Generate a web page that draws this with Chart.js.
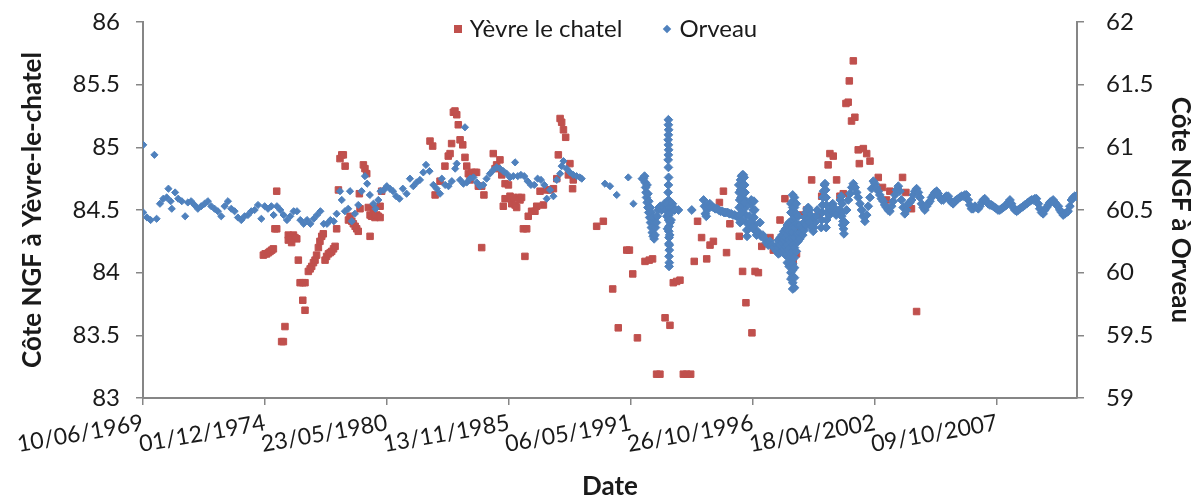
<!DOCTYPE html>
<html>
<head>
<meta charset="utf-8">
<script src="https://cdn.jsdelivr.net/npm/chart.js@4.4.1/dist/chart.umd.min.js"></script>
<style>
  body { margin: 0; background: #fff; }
  #wrap { position: relative; width: 1199px; height: 499px; }
  #legend { position: absolute; top: 13px; left: 6px; width: 1199px; text-align: center; font-family: Lato, sans-serif; font-size: 24px; color: #1a1a1a; }
  #legend span.item { display: inline-block; margin: 0 21px; }
  .sq { display: inline-block; width: 8px; height: 8px; background: #C0504D; margin-right: 8px; vertical-align: middle; position: relative; top: -2px; }
  .dm { display: inline-block; width: 6px; height: 6px; background: #4F81BD; transform: rotate(45deg); margin-right: 9px; vertical-align: middle; position: relative; top: -2px; }
</style>
</head>
<body>
<div id="wrap">
  <canvas id="chart" width="1199" height="499"></canvas>
  <div id="legend"><span class="item"><span class="sq"></span>Yèvre le chatel</span><span class="item"><span class="dm"></span>Orveau</span></div>
</div>
<script>
// dates are decimal years, levels in m NGF
const xTickLabels = ['10/06/1969', '01/12/1974', '23/05/1980', '13/11/1985', '06/05/1991', '26/10/1996', '18/04/2002', '09/10/2007'];
const xMax = 2011.36;
const yLeftTicks = [83, 83.5, 84, 84.5, 85, 85.5, 86];
const yRightTicks = [59, 59.5, 60, 60.5, 61, 61.5, 62];

const yevre = [
  [1974.84,84.14],[1974.92,84.15],[1974.99,84.15],[1975.07,84.16],[1975.14,84.17],[1975.22,84.18],[1975.29,84.19],
  [1975.36,84.35],[1975.44,84.35],[1975.44,84.65],[1975.66,83.45],[1975.74,83.45],[1975.81,83.57],
  [1975.96,84.30],[1976.04,84.29],[1976.11,84.29],[1976.19,84.30],[1976.26,84.28],[1976.34,84.27],[1975.96,84.26],[1976.11,84.24],
  [1976.41,84.10],[1976.49,83.92],[1976.61,83.92],[1976.71,83.92],[1976.61,83.78],[1976.71,83.70],
  [1976.86,84.01],[1976.94,84.03],[1977.01,84.05],[1977.09,84.08],[1977.16,84.10],[1977.23,84.14],
  [1977.31,84.20],[1977.38,84.25],[1977.46,84.29],[1977.53,84.31],
  [1977.61,84.10],[1977.68,84.13],[1977.76,84.15],[1977.84,84.16],[1977.91,84.17],[1977.99,84.19],[1978.06,84.21],
  [1978.13,84.35],[1978.21,84.66],[1978.28,84.91],[1978.36,84.94],[1978.43,84.94],[1978.51,84.85],
  [1978.66,84.42],[1978.73,84.45],[1978.81,84.41],[1978.88,84.39],[1978.96,84.37],[1979.03,84.35],[1979.10,84.33],
  [1979.18,84.51],[1979.15,84.63],[1979.33,84.86],[1979.40,84.83],[1979.48,84.79],
  [1979.55,84.52],[1979.63,84.46],[1979.70,84.45],[1979.78,84.51],[1979.85,84.44],[1979.93,84.46],[1980.00,84.45],[1980.08,84.53],[1980.08,84.44],
  [1979.63,84.29],[1980.15,84.65],
  [1982.32,85.05],[1982.44,85.01],[1982.55,84.62],[1982.77,84.73],[1982.99,84.85],[1983.14,84.93],[1983.22,84.95],[1983.29,85.03],
  [1983.37,85.28],[1983.44,85.29],[1983.52,85.26],[1983.59,85.18],[1983.67,85.06],[1983.79,85.02],[1983.89,84.92],[1983.97,84.85],
  [1984.04,84.79],[1984.12,84.74],[1984.19,84.80],[1984.34,84.80],[1984.41,84.80],[1984.49,84.69],[1984.64,84.69],[1984.74,84.62],
  [1984.64,84.20],[1985.16,84.95],[1985.24,84.83],[1985.31,84.86],[1985.46,84.90],[1985.54,84.78],[1985.69,84.71],[1985.84,84.70],
  [1985.69,84.59],[1985.61,84.53],[1985.91,84.61],[1985.99,84.55],[1986.06,84.60],[1986.14,84.54],[1986.21,84.52],[1986.29,84.60],
  [1986.36,84.58],[1986.43,84.60],[1986.51,84.35],[1986.66,84.35],[1986.58,84.13],[1986.73,84.45],[1986.88,84.49],[1987.03,84.49],
  [1987.11,84.53],[1987.26,84.65],[1987.41,84.54],[1987.56,84.66],[1987.71,84.66],[1987.86,84.67],[1988.01,84.75],[1988.08,84.94],
  [1988.16,85.23],[1988.23,85.20],[1988.31,85.14],[1988.41,85.08],[1988.53,84.78],[1988.60,84.87],[1988.72,84.67],[1988.75,84.74],
  [1989.80,84.37],[1990.10,84.41],[1990.52,83.87],[1990.77,83.56],[1991.15,84.18],[1991.27,84.18],[1991.42,83.99],[1991.63,83.48],
  [1991.97,84.09],[1992.16,84.10],[1992.31,84.11],[1992.49,83.19],[1992.64,83.19],[1992.87,83.64],[1993.09,83.58],
  [1993.24,83.92],[1993.39,83.93],[1993.54,83.94],[1993.69,83.19],[1993.84,83.19],[1994.02,83.19],
  [1994.18,84.09],[1994.33,84.41],[1994.51,84.28],[1994.74,84.11],[1994.89,84.22],[1995.04,84.25],[1995.31,84.56],[1995.49,84.65],
  [1995.63,84.16],[1995.78,84.39],[1996.20,84.29],[1996.35,84.01],[1996.50,83.76],[1996.77,83.52],[1996.91,84.01],[1997.06,84.00],
  [1997.21,84.21],[1997.43,84.23],[1997.58,84.28],[1997.73,84.18],[1998.03,84.42],[1998.25,84.59],
  [1998.62,84.10],[1998.77,84.15],[1998.92,84.35],[1999.00,84.46],[1999.22,84.50],[1999.45,84.74],[1999.75,84.46],[1999.90,84.61],
  [2000.19,84.86],[2000.27,84.95],[2000.42,84.93],[2000.57,84.74],[2000.72,84.61],[2000.87,84.63],
  [2000.99,85.35],[2001.09,85.36],[2001.14,85.53],[2001.32,85.69],[2001.24,85.21],[2001.39,85.24],
  [2001.54,84.98],[2001.77,84.99],[2001.92,84.95],[2002.07,84.89],[2001.59,84.87],[2002.44,84.76],[2002.63,84.68],
  [2002.81,84.58],[2002.96,84.65],[2003.53,84.76],[2003.68,84.64],[2003.93,84.51],[2004.16,83.69]
];

const orveauEarly = [
  [1969.45,61.02],[1969.45,60.48],[1969.62,60.44],[1969.78,60.42],[1969.95,60.94],[1970.05,60.43],[1970.20,60.55],[1970.35,60.59],
  [1970.50,60.60],[1970.58,60.67],[1970.68,60.57],[1970.73,60.51],[1970.88,60.64],[1971.02,60.59],[1971.18,60.57],[1971.33,60.45],
  [1971.45,60.56],[1971.60,60.57],[1971.75,60.54],[1971.90,60.51],[1972.05,60.53],[1972.20,60.55],[1972.35,60.57],[1972.50,60.53],
  [1972.65,60.51],[1972.80,60.49],[1972.95,60.45],[1973.10,60.53],[1973.25,60.57],[1973.40,60.51],[1973.55,60.49],[1973.70,60.44],
  [1973.85,60.42],[1974.00,60.45],[1974.15,60.46],[1974.30,60.49],[1974.45,60.50],[1974.60,60.54],[1974.75,60.43],[1974.90,60.53],
  [1975.05,60.51],[1975.20,60.53],[1975.30,60.46],[1975.45,60.53],[1975.60,60.50],[1975.75,60.46],[1975.90,60.42],[1976.05,60.45],
  [1976.20,60.49],[1976.35,60.49],[1976.50,60.42],[1976.65,60.39],[1976.80,60.42],[1976.95,60.39],[1977.10,60.43],[1977.25,60.46],
  [1977.40,60.49],[1977.55,60.39],[1977.70,60.39],[1977.85,60.42],[1978.00,60.41],[1978.13,60.47],[1978.28,60.65],[1978.36,60.58],
  [1978.50,60.49],[1978.65,60.51],[1978.73,60.65],[1978.81,60.41],[1978.95,60.47],[1979.10,60.54],[1979.25,60.65],[1979.40,60.77],
  [1979.50,60.71],[1979.62,60.62],[1979.78,60.55],[1979.88,60.51],[1980.00,60.58],[1980.10,60.65],[1980.25,60.66],[1980.38,60.69],
  [1980.52,60.67],[1980.66,60.65],[1980.80,60.61],[1980.95,60.59],[1981.10,60.67],[1981.27,60.63],[1981.42,60.75],[1981.57,60.69],
  [1981.72,60.72],[1981.87,60.74],[1982.02,60.80],[1982.14,60.86],[1982.30,60.81],[1982.47,60.70],[1982.62,60.67],[1982.77,60.63],
  [1982.85,60.75],[1983.00,60.70],[1983.15,60.69],[1983.30,60.73],[1983.45,60.83],[1983.52,60.87],[1983.67,60.74],[1983.82,60.71],
  [1983.89,61.16],[1983.97,60.72],[1984.12,60.75],[1984.27,60.76],[1984.42,60.72],[1984.56,60.69],[1984.71,60.70],[1984.86,60.75],
  [1985.01,60.79],[1985.16,60.82],[1985.31,60.84],[1985.46,60.83],[1985.61,60.81],[1985.76,60.79],[1985.91,60.76],[1986.06,60.77],
  [1986.14,60.88],[1986.26,60.77],[1986.40,60.78],[1986.55,60.77],[1986.70,60.73],[1986.85,60.70],[1987.00,60.70],[1987.15,60.75],
  [1987.30,60.74],[1987.45,60.70],[1987.56,60.59],[1987.71,60.66],[1987.86,60.61],[1988.01,60.74],[1988.16,60.79],[1988.23,60.85],
  [1988.31,60.89],[1988.45,60.83],[1988.60,60.80],[1988.75,60.78],[1988.90,60.77],[1989.05,60.76],[1989.13,60.75],
  [1990.17,60.71],[1990.40,60.69],[1990.70,60.62],[1991.22,60.76],[1991.45,60.55],[1991.82,60.75]
];

const orveau1992 = [
  [1991.90,60.75],[1991.95,60.77],[1991.98,60.72],[1992.00,60.68],[1992.02,60.64],[1992.04,60.60],[1992.07,60.56],[1992.10,60.52],
  [1992.14,60.48],[1992.18,60.44],[1992.22,60.40],[1992.26,60.36],[1992.30,60.32],[1992.34,60.29],[1992.38,60.27],[1992.42,60.30],
  [1992.06,60.70],[1992.10,60.63],[1992.14,60.57],[1992.20,60.52],[1992.26,60.48],[1992.32,60.44],[1992.38,60.40],[1992.44,60.36],
  [1992.48,60.40],[1992.52,60.45],[1992.56,60.50],[1992.60,60.52],[1992.66,60.53],[1992.72,60.50],[1992.78,60.52],[1992.84,60.55],
  [1992.90,60.50],[1992.95,60.45],
  [1993.02,61.22],[1993.02,61.18],[1993.03,61.14],[1993.02,61.10],[1993.01,61.06],[1993.02,61.02],[1993.03,60.98],[1993.02,60.94],
  [1993.01,60.90],[1993.02,60.84],[1993.03,60.76],[1993.02,60.70],[1993.01,60.64],[1993.03,60.58],[1993.02,60.52],[1993.04,60.46],
  [1993.03,60.42],[1993.05,60.37],[1993.04,60.33],[1993.05,60.28],[1993.04,60.23],[1993.06,60.18],[1993.05,60.13],[1993.06,60.08],
  [1993.05,60.05],
  [1992.95,60.55],[1992.98,60.35],[1993.06,60.22],[1993.08,60.30],[1993.10,60.40],[1993.08,60.52],[1993.12,60.48],[1993.14,60.42],
  [1993.16,60.52],[1993.20,60.55],[1993.25,60.52],[1993.30,60.50],[1993.47,60.50],[1994.07,60.50],
  [1994.60,60.58],[1994.64,60.53],[1994.68,60.47],[1994.72,60.45],[1994.76,60.50],[1994.80,60.54],[1994.88,60.55],[1994.96,60.53],
  [1995.04,60.52],[1995.12,60.51],[1995.20,60.51],[1995.28,60.50],[1995.36,60.49],[1995.44,60.49],[1995.52,60.48],[1995.60,60.48],
  [1995.68,60.48],[1995.76,60.47],[1995.84,60.47],[1995.92,60.46],[1996.00,60.46],[1996.08,60.45],[1996.14,60.45]
];

const orveau1996 = [
  [1996.18,60.70],[1996.20,60.64],[1996.22,60.58],[1996.20,60.52],[1996.22,60.46],[1996.24,60.40],[1996.26,60.74],[1996.30,60.77],
  [1996.34,60.78],[1996.38,60.78],[1996.42,60.76],[1996.44,60.70],[1996.46,60.64],[1996.46,60.58],[1996.48,60.52],[1996.50,60.46],
  [1996.52,60.40],[1996.54,60.34],[1996.55,60.29],[1996.26,60.66],[1996.28,60.60],[1996.30,60.54],[1996.32,60.48],[1996.34,60.42],
  [1996.38,60.70],[1996.40,60.63],[1996.42,60.56],
  [1996.62,60.35],[1996.66,60.45],[1996.70,60.55],[1996.74,60.58],[1996.78,60.56],[1996.82,60.50],[1996.86,60.44],[1996.90,60.38],
  [1996.94,60.33],[1996.98,60.30],[1996.72,60.40],[1996.80,60.36],[1996.86,60.57],[1996.90,60.50],
  [1997.02,60.33],[1997.10,60.31],[1997.13,60.40],[1997.18,60.29],[1997.26,60.30],[1997.34,60.27],[1997.42,60.24],[1997.50,60.22],
  [1997.58,60.25],[1997.66,60.22],[1997.74,60.20],
  [1997.88,60.22],[1997.88,60.17],[1997.96,60.26],[1997.96,60.20],[1997.96,60.15],[1998.04,60.28],[1998.04,60.22],[1998.04,60.16],
  [1998.12,60.30],[1998.12,60.24],[1998.12,60.17],[1998.20,60.33],[1998.20,60.26],[1998.20,60.19],
  [1998.28,60.35],[1998.28,60.28],[1998.28,60.21],[1998.28,60.14],
  [1998.36,60.38],[1998.36,60.30],[1998.36,60.22],[1998.36,60.14],[1998.36,60.08],
  [1998.44,60.40],[1998.44,60.33],[1998.44,60.26],[1998.44,60.19],[1998.44,60.12],[1998.44,60.05],
  [1998.52,60.55],[1998.52,60.48],[1998.52,60.40],[1998.52,60.32],[1998.52,60.24],[1998.52,60.16],[1998.52,60.08],[1998.52,60.00],[1998.52,59.95],
  [1998.60,60.62],[1998.60,60.57],[1998.60,60.52],[1998.60,60.47],[1998.60,60.42],[1998.60,60.37],[1998.60,60.32],[1998.60,60.27],
  [1998.60,60.22],[1998.60,60.17],[1998.60,60.12],[1998.60,60.07],[1998.60,60.02],[1998.60,59.97],[1998.60,59.92],[1998.60,59.87],
  [1998.68,60.60],[1998.68,60.52],[1998.68,60.44],[1998.68,60.36],[1998.68,60.28],[1998.68,60.20],[1998.68,60.12],[1998.68,60.04],
  [1998.68,59.96],[1998.68,59.88],
  [1998.76,60.55],[1998.76,60.47],[1998.76,60.39],[1998.76,60.31],[1998.76,60.24],[1998.76,60.17],
  [1998.84,60.45],[1998.84,60.38],[1998.84,60.31],[1998.84,60.25],[1998.92,60.38],[1998.92,60.32],[1998.92,60.27]
];

const orveau2000 = [
  [1999.00,60.33],[1999.05,60.36],[1999.10,60.40],[1999.15,60.44],[1999.20,60.48],[1999.25,60.51],[1999.30,60.52],[1999.35,60.50],
  [1999.40,60.46],[1999.45,60.42],[1999.50,60.38],[1999.55,60.36],[1999.60,60.40],[1999.65,60.45],[1999.70,60.50],[1999.05,60.30],
  [1999.12,60.34],[1999.20,60.38],[1999.28,60.42],[1999.36,60.40],[1999.44,60.36],[1999.52,60.33],
  [1999.88,60.36],[1999.90,60.42],[1999.92,60.48],[1999.94,60.54],[1999.96,60.60],[1999.98,60.65],[2000.02,60.70],[2000.05,60.71],
  [2000.08,60.66],[2000.10,60.60],[2000.11,60.54],[2000.12,60.48],[2000.12,60.42],[2000.10,60.36],
  [2000.25,60.46],[2000.30,60.50],[2000.35,60.54],[2000.40,60.55],[2000.45,60.52],[2000.50,60.48],[2000.55,60.46],
  [2000.70,60.50],[2000.74,60.58],[2000.78,60.61],[2000.82,60.55],[2000.84,60.48],[2000.86,60.41],[2000.88,60.35],[2000.90,60.31],
  [2000.80,60.45],[2000.84,60.38]
];

const orveauWave = [
  [2000.95,60.40],[2001.02,60.50],[2001.10,60.58],[2001.17,60.63],[2001.25,60.68],[2001.32,60.71],[2001.40,60.68],[2001.47,60.64],
  [2001.54,60.60],[2001.62,60.55],[2001.69,60.50],[2001.76,60.45],[2001.84,60.41],[2001.92,60.46],[2001.99,60.53],[2002.07,60.60],
  [2002.14,60.67],[2002.22,60.73],[2002.29,60.71],[2002.36,60.68],[2002.44,60.65],[2002.51,60.62],[2002.58,60.59],[2002.66,60.57],
  [2002.73,60.54],[2002.81,60.52],[2002.88,60.50],[2002.96,60.49],[2003.04,60.53],[2003.11,60.57],[2003.19,60.62],[2003.26,60.66],
  [2003.34,60.69],[2003.41,60.65],[2003.48,60.58],[2003.56,60.52],[2003.63,60.47],[2003.71,60.50],[2003.78,60.55],[2003.86,60.56],
  [2003.94,60.58],[2004.01,60.62],[2004.08,60.65],[2004.16,60.67],[2004.24,60.64],[2004.31,60.60],[2004.38,60.55],[2004.46,60.52],
  [2004.53,60.50],[2004.61,60.53],[2004.68,60.55],[2004.76,60.57],[2004.83,60.60],[2004.91,60.62],[2004.98,60.64],[2005.06,60.65],
  [2005.13,60.63],[2005.21,60.60],[2005.28,60.58],[2005.36,60.58],[2005.43,60.60],[2005.50,60.61],[2005.58,60.61],[2005.65,60.58],
  [2005.73,60.56],[2005.80,60.55],[2005.88,60.57],[2005.95,60.58],[2006.03,60.59],[2006.10,60.60],[2006.18,60.61],[2006.25,60.61],
  [2006.33,60.62],[2006.40,60.62],[2006.48,60.58],[2006.55,60.54],[2006.63,60.51],[2006.70,60.51],[2006.78,60.53],[2006.85,60.52],
  [2006.93,60.51],[2007.00,60.53],[2007.08,60.56],[2007.15,60.58],[2007.22,60.59],[2007.30,60.57],[2007.37,60.55],[2007.45,60.54],
  [2007.52,60.54],[2007.60,60.53],[2007.67,60.52],[2007.75,60.51],[2007.82,60.50],[2007.90,60.50],[2007.97,60.51],[2008.05,60.52],
  [2008.12,60.53],[2008.20,60.54],[2008.27,60.56],[2008.35,60.58],[2008.42,60.55],[2008.50,60.52],[2008.57,60.50],[2008.65,60.49],
  [2008.72,60.50],[2008.80,60.51],[2008.87,60.52],[2008.95,60.53],[2009.02,60.54],[2009.10,60.55],[2009.17,60.56],[2009.24,60.57],
  [2009.32,60.58],[2009.39,60.58],[2009.47,60.59],[2009.54,60.59],[2009.62,60.55],[2009.69,60.51],[2009.77,60.48],[2009.84,60.47],
  [2009.92,60.50],[2009.99,60.52],[2010.07,60.54],[2010.14,60.56],[2010.22,60.57],[2010.29,60.58],[2010.37,60.56],[2010.44,60.54],
  [2010.52,60.53],[2010.59,60.50],[2010.67,60.48],[2010.74,60.46],[2010.82,60.47],[2010.89,60.48],[2010.96,60.49],[2011.04,60.53],
  [2011.11,60.58],[2011.19,60.60],[2011.26,60.61],[2011.34,60.61]
];

function toYear(label) {
  const [d, m, y] = label.split('/').map(Number);
  const start = Date.UTC(y, 0, 1), end = Date.UTC(y + 1, 0, 1);
  return y + (Date.UTC(y, m - 1, d) - start) / (end - start);
}

const toXY = arr => arr.map(p => ({ x: p[0], y: p[1] }));
const orveauAll = [].concat(orveauEarly, orveau1992, orveau1996, orveau2000, orveauWave);

const axisGrey = '#868686';
const textCol = '#1a1a1a';
Chart.defaults.font.family = 'Lato, sans-serif';
Chart.defaults.color = textCol;

// keep the plot area where the original had it: no extra padding from tick labels
function noPad(s) { s.paddingTop = 0; s.paddingBottom = 0; s.paddingLeft = 0; s.paddingRight = 0; }

function yAxis(pos, ticksArr, title, titlePad, tickPad) {
  return {
    type: 'linear',
    position: pos,
    min: ticksArr[0],
    max: ticksArr[ticksArr.length - 1],
    afterBuildTicks: s => { s.ticks = ticksArr.map(v => ({ value: v })); },
    afterFit: s => { s.width = pos === 'left' ? 143 : 122; noPad(s); },
    ticks: { font: { size: 24 }, padding: tickPad, callback: v => String(v) },
    grid: { drawOnChartArea: false, drawTicks: true, tickLength: 7, color: axisGrey, lineWidth: 1.5 },
    border: { display: true, color: axisGrey, width: 2 },
    title: { display: true, text: title, font: { size: 26, weight: 'bold' }, padding: { top: titlePad, bottom: 0 }, color: textCol }
  };
}

new Chart(document.getElementById('chart'), {
  type: 'scatter',
  data: {
    datasets: [
      {
        label: 'Orveau',
        data: toXY(orveauAll),
        yAxisID: 'y1',
        order: 0,
        pointStyle: 'rectRot',
        pointRadius: ctx => (ctx.raw && ctx.raw.x > 1991.85 ? 4.4 : 3.6),
        backgroundColor: '#4F81BD',
        borderColor: '#4F81BD',
        borderWidth: 1
      },
      {
        label: 'Yèvre le chatel',
        data: toXY(yevre),
        yAxisID: 'y',
        order: 1,
        pointStyle: 'rect',
        pointRadius: 4.6,
        backgroundColor: '#C0504D',
        borderColor: '#C0504D',
        borderWidth: 1
      }
    ]
  },
  options: {
    responsive: false,
    devicePixelRatio: 1,
    animation: false,
    layout: { padding: { top: 22, left: 0, right: 0, bottom: 0 } },
    plugins: { legend: { display: false }, tooltip: { enabled: false } },
    scales: {
      x: {
        type: 'linear',
        position: 'bottom',
        min: toYear(xTickLabels[0]),
        max: xMax,
        afterBuildTicks: s => { s.ticks = xTickLabels.map(l => ({ value: toYear(l) })); },
        afterFit: s => { s.height = 101; noPad(s); },
        ticks: { font: { size: 23 }, autoSkip: false, minRotation: 10, maxRotation: 10, padding: 4,
                 callback: (v, i) => xTickLabels[i] },
        grid: { drawOnChartArea: false, drawTicks: true, tickLength: 7, color: axisGrey, lineWidth: 1.5 },
        border: { display: true, color: axisGrey, width: 2 },
        title: { display: true, text: 'Date', font: { size: 26, weight: 'bold' }, padding: { top: 0, bottom: -3 }, color: textCol }
      },
      y: yAxis('left', yLeftTicks, 'Côte NGF à Yèvre-le-chatel', 17, 16),
      y1: yAxis('right', yRightTicks, 'Côte NGF à Orveau', 3, 22)
    }
  }
});
</script>
</body>
</html>
